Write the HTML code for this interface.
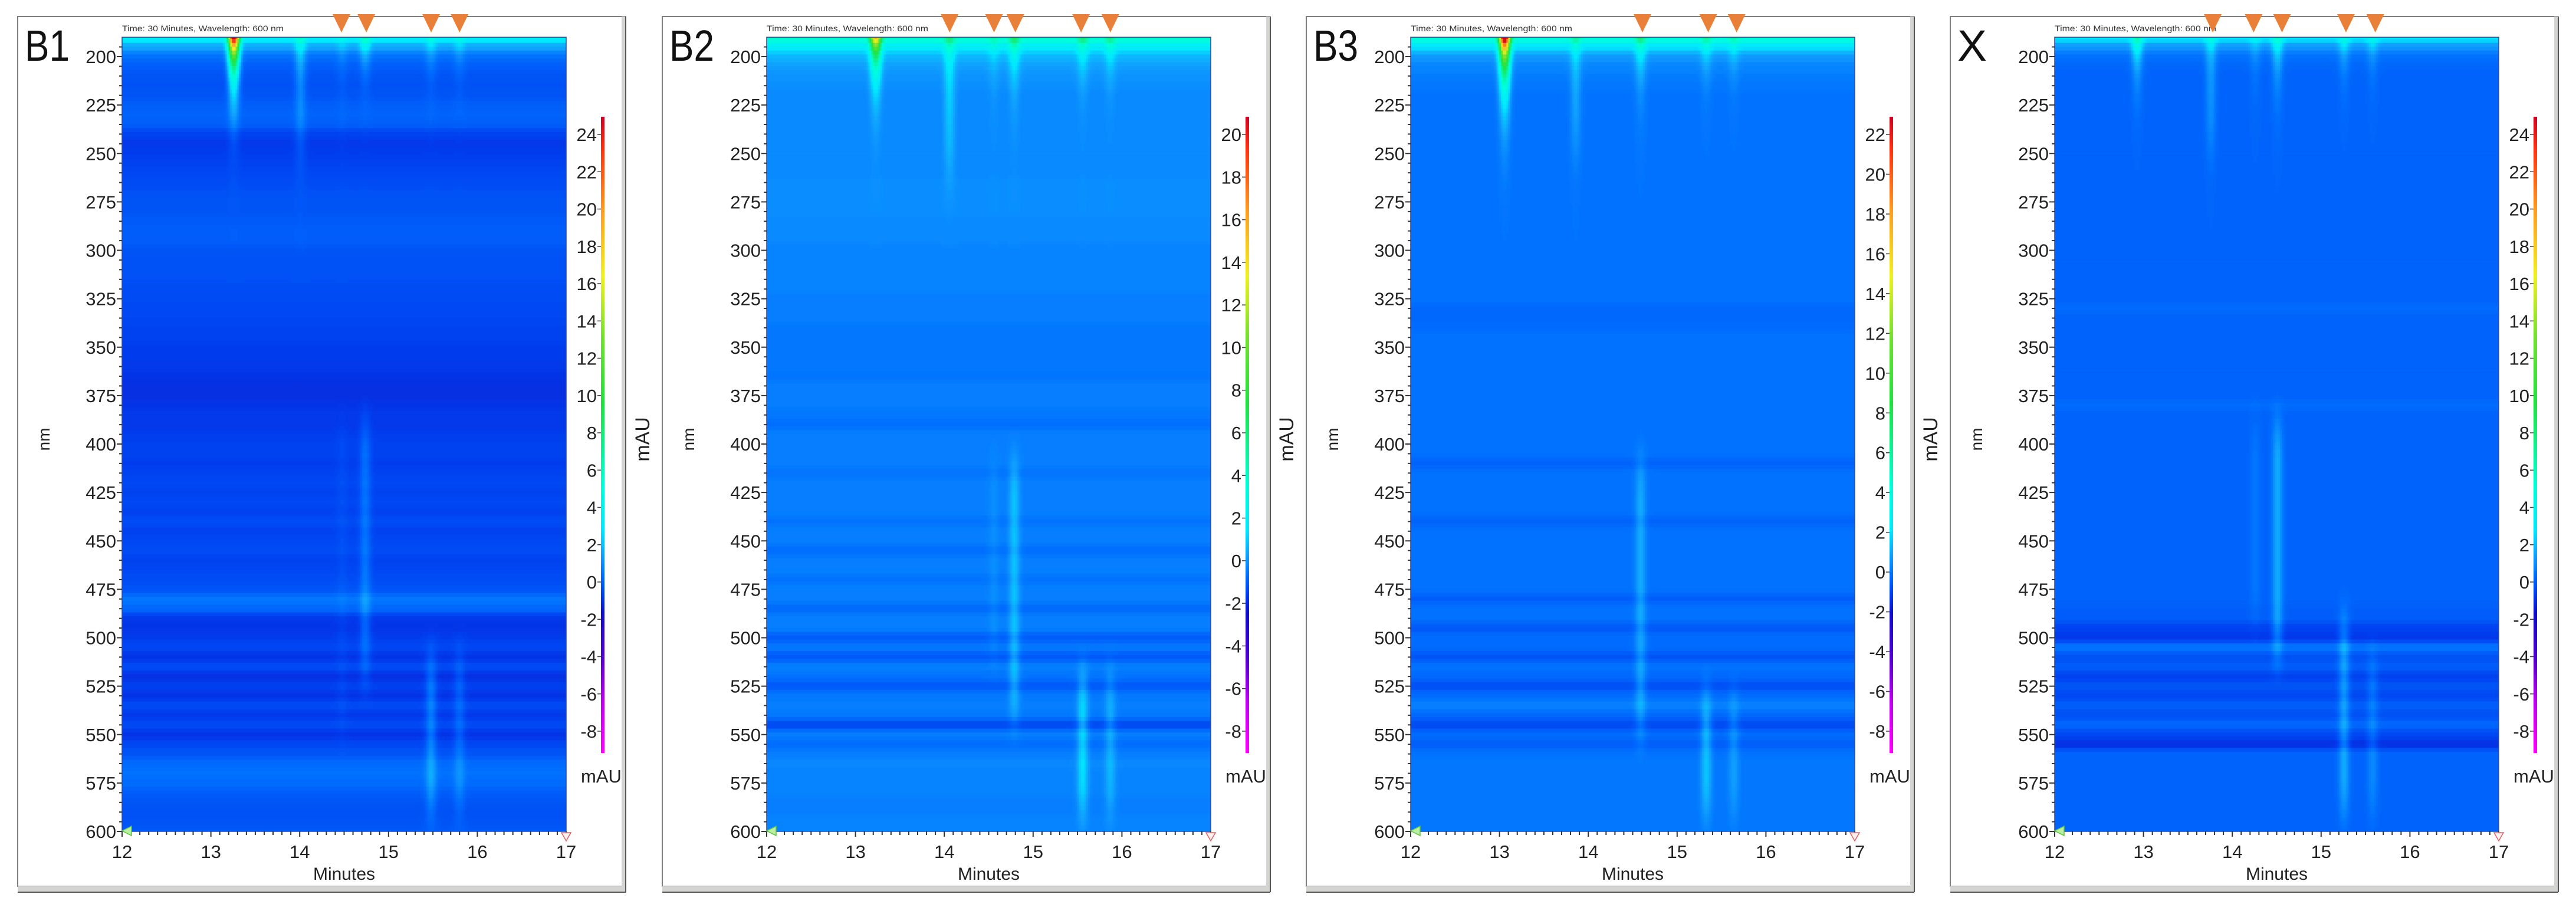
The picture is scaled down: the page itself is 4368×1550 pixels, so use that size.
<!DOCTYPE html>
<html><head><meta charset="utf-8"><title>PDA contour plots B1 B2 B3 X</title>
<style>
html,body{margin:0;padding:0;background:#fff;}
svg{display:block;}
text{font-family:"Liberation Sans Narrow","Liberation Sans",sans-serif;fill:#222;}
</style></head>
<body>
<svg id="fig" xmlns="http://www.w3.org/2000/svg" width="4368" height="1550" viewBox="0 0 4368 1550">
<rect x="0" y="0" width="4368" height="1550" fill="#ffffff"/>
</svg>
<script>
// ---------- data ----------
const panelNames = ["B1","B2","B3","X"];
const wavelengths = []; for (let w = 190; w <= 600; w += 5) wavelengths.push(w);
const yTickLabels = [200,225,250,275,300,325,350,375,400,425,450,475,500,525,550,575,600];
const xTickLabels = [12,13,14,15,16,17];
const colorTopTicks = [24, 20, 22, 24];

const baseB1 = [3.5,1.5,0.4,0.0,-0.2,-0.3,-0.2,0.0,0.1,0.0,
 -0.6,-0.8,-0.7,-0.6,-0.5,-0.4,-0.3,-0.2,-0.2,-0.1,
 0.0,0.0,-0.2,-0.3,-0.3,-0.3,-0.4,-0.4,-0.5,-0.5,
 -0.6,-0.6,-0.7,-0.7,-0.8,-0.9,-1.0,-1.0,-0.9,-0.8,
 -0.8,-0.7,-0.6,-0.6,-0.7,-0.6,-0.5,-0.6,-0.5,-0.6,
 -0.4,-0.6,-0.5,-0.4,-0.6,-0.5,-0.4,-0.2,0.5,0.2,
 -0.8,-0.9,-0.7,-0.5,-0.9,-0.4,-1.0,-0.6,-0.9,-0.4,
 -0.8,-0.4,-0.9,-0.5,-0.2,0.3,0.4,0.3,0.0,-0.2,
 -0.3,-0.2,-0.1];
const baseB2 = [4.0,1.8,0.6,0.2,0.0,-0.1,-0.2,-0.2,-0.2,-0.2,
 -0.2,-0.2,-0.2,-0.2,-0.2,-0.1,-0.1,-0.1,-0.1,-0.2,
 -0.2,-0.2,-0.3,-0.3,-0.3,-0.3,-0.3,-0.4,-0.4,-0.4,
 -0.5,-0.5,-0.5,-0.5,-0.5,-0.6,-0.4,-0.4,-0.4,-0.5,
 -0.7,-0.4,-0.4,-0.4,-0.4,-0.6,-0.4,-0.4,-0.4,-0.4,
 -0.6,-0.4,-0.4,-0.7,-0.4,-0.4,-0.6,-0.4,-0.4,-0.8,
 -0.4,-0.4,-1.0,-0.5,-1.1,-0.4,-0.6,-1.1,-0.5,-0.4,
 -0.5,-1.4,-0.4,-0.7,-0.4,-0.2,-0.3,-0.3,-0.3,-0.4,
 -0.4,-0.3,-0.3];
const baseB3 = [4.5,2.0,0.7,0.3,0.1,0.0,-0.1,-0.1,-0.1,-0.1,
 -0.1,-0.1,-0.1,-0.1,-0.1,-0.1,-0.1,-0.1,-0.1,-0.1,
 -0.1,-0.1,-0.1,-0.1,-0.1,-0.1,-0.1,-0.1,-0.3,-0.3,
 -0.2,-0.1,-0.1,-0.1,-0.1,-0.1,-0.1,-0.1,-0.1,-0.1,
 -0.1,-0.1,-0.1,-0.1,-0.4,-0.1,-0.1,-0.1,-0.1,-0.1,
 -0.4,-0.1,-0.1,-0.1,-0.1,-0.1,-0.1,-0.1,-0.5,-0.1,
 -0.1,-0.6,-0.2,-0.2,-0.7,-0.1,-0.3,-0.8,-0.2,0.2,
 -0.3,-0.9,-0.2,-0.5,-0.1,0.0,0.0,0.0,0.0,0.0,
 0.0,0.0,0.0];
const baseX = [3.0,1.2,0.4,0.2,0.1,0.1,0.1,0.1,0.1,0.1,
 0.1,0.1,0.1,0.1,0.1,0.1,0.1,0.1,0.1,0.1,
 0.1,0.1,0.1,0.1,0.1,0.1,0.1,0.1,0.3,0.1,
 0.1,0.1,0.1,0.1,0.1,0.1,0.1,0.1,0.3,0.1,
 0.1,0.1,0.1,0.1,0.1,0.1,0.1,0.1,0.1,0.1,
 0.1,0.1,0.1,0.1,0.1,0.1,0.1,0.1,0.1,0.0,
 0.0,-0.6,-0.8,0.5,-0.3,0.0,-0.6,-0.2,-0.5,0.0,
 -0.3,0.2,-0.5,-1.0,0.1,0.1,0.1,0.1,0.1,0.1,
 0.1,0.1,0.1];
const baselines = [baseB1, baseB2, baseB3, baseX];

const peakTimes  = [[13.25,14.0,14.47,14.73,15.47,15.79],[13.22,14.05,14.55,14.78,15.55,15.86],[13.05,13.85,14.58,15.32,15.63],[12.92,13.75,14.25,14.5,15.25,15.57]];
const peakTops   = [[24,2.5,0.8,3,1.5,1.2],[12,2.5,1,3,2.5,2],[22,2,3,2,1.5],[4,2,1,3,2,1.5]];
const peakDecays = [[14,25,20,12,15,15],[14,25,20,18,15,15],[16,25,18,15,15],[15,25,20,18,15,15]];
const peakBodies = [[0,0.4,0.2,1.0,1.3,0.8],[0,0.6,0.3,1.2,1.6,0.9],[0,0.5,1.1,1.5,0.8],[0,0.5,0.4,1.5,1.5,0.8]];
const peakFrom   = [[190,200,380,380,500,500],[190,200,400,400,510,510],[190,200,400,520,520],[190,200,380,380,480,500]];
const peakTo     = [[190,265,560,530,600,600],[190,270,520,550,600,600],[190,260,560,600,600],[190,260,500,520,600,600]];
const markerTimes = [[14.47,14.75,15.48,15.80],[14.06,14.56,14.80,15.54,15.87],[14.61,15.35,15.67],[13.78,14.24,14.56,15.28,15.61]];

// ---------- layout ----------
const NS = "http://www.w3.org/2000/svg";
const svg = document.getElementById("fig");
const panelLeft = [30,1123,2215,3307];
const FRAME_TOP = 28, FRAME_BOTTOM = 1503, FRAME_W = 1030;
function el(tag, attrs, parent){ const e=document.createElementNS(NS,tag); for(const k in attrs) e.setAttribute(k,attrs[k]); (parent||svg).appendChild(e); return e; }
const yScale = nm => 96 + (nm-200)*3.285;
const PLOT_TOP = yScale(190), PLOT_BOTTOM = yScale(600);

const cstops = [[0,255,0,255],[0.08,192,0,240],[0.15,80,0,208],[0.22,16,16,200],[0.25,0,64,240],[0.28,0,112,255],[0.31,16,160,255],[0.35,0,232,255],[0.42,0,255,216],[0.55,32,224,64],[0.65,112,224,48],[0.75,240,240,32],[0.85,255,160,32],[0.95,255,48,16],[1,208,0,32]];
function cmap(t){ t=Math.max(0,Math.min(1,t));
  for(let i=1;i<cstops.length;i++){ if(t<=cstops[i][0]){ const a=cstops[i-1],b=cstops[i]; const f=(t-a[0])/(b[0]-a[0]);
    return [0,1,2].map(k=>Math.round(a[k+1]+(b[k+1]-a[k+1])*f)); } }
  return cstops[cstops.length-1].slice(1); }
const hex = c => "#"+c.map(v=>Math.min(255,Math.round(v/3)*3).toString(16).padStart(2,"0")).join("");
const smooth = x => { x=Math.max(0,Math.min(1,x)); return x*x*(3-2*x); };

for (let p=0;p<4;p++){
  const L = panelLeft[p];
  const px0 = L+177, px1 = L+930;
  const xScale = m => px0 + (m-12)*(px1-px0)/5;
  const g = el("g",{});
  
  

  // frame
  const fr = el("rect",{x:L,y:FRAME_TOP,width:FRAME_W,height:FRAME_BOTTOM-FRAME_TOP,fill:"#fff",stroke:"#808080","stroke-width":2},g);
  
  
  el("rect",{x:L+FRAME_W-6,y:FRAME_TOP,width:7,height:FRAME_BOTTOM-FRAME_TOP+10,fill:"#d4d4d0"},g);
  el("line",{x1:L+FRAME_W+1,y1:FRAME_TOP,x2:L+FRAME_W+1,y2:FRAME_BOTTOM+10,stroke:"#555","stroke-width":2},g);
  el("rect",{x:L,y:FRAME_BOTTOM,width:FRAME_W,height:9,fill:"#d4d4d0"},g);
  el("line",{x1:L,y1:FRAME_BOTTOM+10,x2:L+FRAME_W+1,y2:FRAME_BOTTOM+10,stroke:"#555","stroke-width":2},g);

  // panel letter
  const lt = el("text",{x:L+12,y:103,"font-size":74,style:"font-family:'Liberation Sans',sans-serif;fill:#111",textLength:(p===3?50:76),lengthAdjust:"spacingAndGlyphs"},g);
  lt.textContent = panelNames[p];
  
  

  // title
  const tt = el("text",{x:px0,y:53,"font-size":14,textLength:274,lengthAdjust:"spacingAndGlyphs",style:"font-family:'Liberation Sans',sans-serif;fill:#333"},g);
  tt.textContent = "Time: 30 Minutes, Wavelength: 600 nm";
  
  

  // heatmap
  const clipId = "clip"+p;
  const cp = el("clipPath",{id:clipId},g);
  el("rect",{x:px0,y:PLOT_TOP,width:px1-px0,height:PLOT_BOTTOM-PLOT_TOP},cp);
  const hm = el("g",{"clip-path":"url(#"+clipId+")"},g);
  
  
  const vmax = colorTopTicks[p] + (228-198)*(colorTopTicks[p]+8)/(1240-228);
  const vmin = -8 - (1277-1240)*(colorTopTicks[p]+8)/(1240-228);
  const base = baselines[p];
  const baseAt = nm => { const f=(nm-190)/5; const i=Math.max(0,Math.min(base.length-2,Math.floor(f))); const r=Math.max(0,Math.min(1,f-i)); const s=r*r*(3-2*r); return base[i]*(1-s)+base[i+1]*s; };
  const dt = 0.02, dn = 2;
  for (let nm=190; nm<=600; nm+=dn){
    const y0 = yScale(nm-dn/2), y1 = yScale(nm+dn/2);
    let runStart = 12, runCol = null;
    const flush = (endM)=>{ if(runCol===null) return;
      const c = el("rect",{x:(xScale(runStart)-0.3).toFixed(1),y:(y0-0.3).toFixed(1),width:(xScale(endM)-xScale(runStart)+0.6).toFixed(1),height:(y1-y0+0.6).toFixed(1),fill:runCol},hm);
      
       };
    const bv = baseAt(nm);
    for (let m=12; m<17+1e-9; m+=dt){
      let v = bv;
      for (let k=0;k<peakTimes[p].length;k++){
        const d = (m-peakTimes[p][k])/0.042; const gs = Math.exp(-0.5*d*d);
        if (gs<1e-3) continue;
        const win = smooth((nm-peakFrom[p][k]+10)/40)*smooth((peakTo[p][k]-nm+10)/40);
        v += gs*(peakTops[p][k]*Math.exp(-(nm-190)/peakDecays[p][k]) + peakBodies[p][k]*win);
      }
      const col = hex(cmap((v-vmin)/(vmax-vmin)));
      if (col!==runCol){ flush(m); runStart=m; runCol=col; }
    }
    flush(17);
  }
  el("rect",{x:px0,y:PLOT_TOP,width:px1-px0,height:PLOT_BOTTOM-PLOT_TOP,fill:"none",stroke:"#2a4a9a","stroke-width":1.5},g);

  // y axis
  for (let nm=195; nm<=600; nm+=5){
    const major = (nm%25===0);
    el("line",{x1:px0-(major?9:5),y1:yScale(nm),x2:px0,y2:yScale(nm),stroke:"#333","stroke-width":2},g);
  }
  yTickLabels.forEach(v=>{
    const t = el("text",{x:px0-10,y:yScale(v)+11,"font-size":31,"text-anchor":"end"},g);
    t.textContent = v;
    
    
  });
  const yt = el("text",{x:0,y:0,"font-size":28,"text-anchor":"middle",transform:"translate("+(L+54)+",745) rotate(-90)"},g);
  yt.textContent = "nm";
  
  

  // x axis
  for (let i=0;i<=50;i++){
    const m = 12+i*0.1; const major = (i%10===0);
    el("line",{x1:xScale(m),y1:PLOT_BOTTOM,x2:xScale(m),y2:PLOT_BOTTOM+(major?9:6),stroke:"#333","stroke-width":2},g);
  }
  xTickLabels.forEach(v=>{
    const t = el("text",{x:xScale(v),y:1455,"font-size":31,"text-anchor":"middle"},g);
    t.textContent = v;
    
    
  });
  const xt = el("text",{x:(px0+px1)/2,y:1492,"font-size":30,"text-anchor":"middle"},g);
  xt.textContent = "Minutes";
  
  

  // corner markers
  el("polygon",{points:`${px0},${PLOT_BOTTOM-1} ${px0+16},${PLOT_BOTTOM-9} ${px0+16},${PLOT_BOTTOM+7}`,fill:"#b8f0a0",stroke:"#60c040","stroke-width":1.5},g);
  el("polygon",{points:`${px1-8},${PLOT_BOTTOM+2} ${px1+8},${PLOT_BOTTOM+2} ${px1},${PLOT_BOTTOM+16}`,fill:"#fff0f0",stroke:"#e06060","stroke-width":1.5},g);

  // peak markers
  markerTimes[p].forEach(m=>{
    const x = xScale(m);
    const tri = el("polygon",{points:`${x-15},24 ${x+15},24 ${x},55`,fill:"#e8803a"},g);
    
    
  });

  // color bar
  const cbx = L+992;
  const gid = "grad"+p;
  const defs = el("defs",{},g);
  const lg = el("linearGradient",{id:gid,x1:0,y1:1,x2:0,y2:0},defs);
  cstops.forEach(s=>el("stop",{offset:s[0],"stop-color":hex(s.slice(1))},lg));
  const cb = el("rect",{x:cbx-3,y:198,width:6,height:1277-198,fill:"url(#"+gid+")"},g);
  
  
  const cy = v => 228 + (colorTopTicks[p]-v)*(1240-228)/(colorTopTicks[p]+8);
  for (let v=-8; v<=colorTopTicks[p]; v+=2){
    el("line",{x1:cbx-9,y1:cy(v),x2:cbx-3,y2:cy(v),stroke:"#444","stroke-width":1.5},g);
    const t = el("text",{x:cbx-10,y:cy(v)+11,"font-size":31,"text-anchor":"end"},g);
    t.textContent = v;
    
    
  }
  const cu = el("text",{x:cbx-37,y:1327,"font-size":31},g);
  cu.textContent = "mAU";
  
  

  if (p>0){
    const mu = el("text",{x:0,y:0,"font-size":34,"text-anchor":"middle",transform:"translate("+(L-22)+",745) rotate(-90)"});
    mu.textContent = "mAU";
    
    
  }
}
</script>
</body></html>
